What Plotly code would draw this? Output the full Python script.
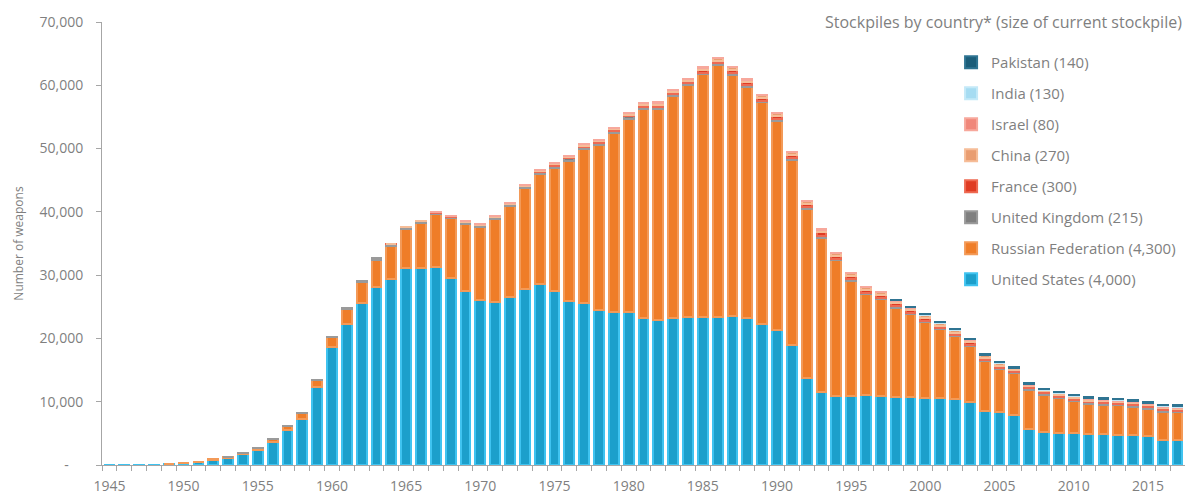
import plotly.graph_objects as go

years = list(range(1945, 2018))

# United States, 1945-2017
us = [2, 9, 13, 50, 170,
      299, 438, 841, 1169, 1703, 2422, 3692, 5543, 7345, 12298,
      18638, 22229, 25540, 28133, 29463, 31139, 31175, 31255, 29561, 27552,
      26008, 25830, 26516, 27835, 28537, 27519, 25914, 25542, 24418, 24138,
      24104, 23208, 22886, 23305, 23459, 23368, 23317, 23575, 23205, 22217,
      21392, 19008, 13708, 11511, 10979, 10904, 11011, 10903, 10732, 10685,
      10577, 10526, 10457, 10027, 8570, 8360, 7853, 5709, 5273, 5113,
      5066, 4897, 4881, 4804, 4717, 4571, 4018, 4000]

# Russian Federation, from 1949
russia_start = 1949
russia = [1,
          5, 25, 50, 120, 150, 200, 426, 660, 869, 1060,
          1605, 2471, 3322, 4238, 5221, 6129, 7089, 8339, 9399, 10538,
          11643, 13092, 14478, 15915, 17385, 19443, 22200, 24350, 26180, 28340,
          30640, 33080, 33390, 35010, 36600, 38350, 39940, 38107, 36538, 35078,
          32980, 29154, 26734, 24403, 21339, 18179, 15942, 15300, 14150, 13100,
          12050, 10950, 9900, 8800, 7800, 6750, 6650, 6200, 5850, 5430,
          5040, 4770, 4650, 4600, 4500, 4330, 4400, 4300]

# United Kingdom, from 1953
uk_start = 1953
uk = [1, 5, 10, 15, 20, 22, 25,
      30, 50, 205, 280, 310, 310, 310, 270, 280, 308,
      280, 220, 220, 275, 325, 350, 350, 350, 350, 350,
      350, 350, 335, 320, 270, 300, 300, 300, 300, 300,
      300, 300, 300, 300, 250, 300, 300, 260, 260, 185,
      185, 185, 200, 200, 200, 200, 200, 225, 225, 225,
      225, 225, 225, 225, 225, 215, 215, 215]

# France, from 1964
france_start = 1964
france = [4, 32, 36, 36, 36, 36,
          36, 45, 70, 116, 145, 188, 212, 228, 235, 235,
          250, 274, 274, 279, 280, 360, 355, 420, 411, 412,
          504, 538, 540, 525, 510, 500, 450, 450, 450, 450,
          470, 350, 350, 350, 350, 350, 350, 350, 300, 300,
          300, 300, 300, 300, 300, 300, 300, 300]

# China, from 1964
china_start = 1964
china = [1, 5, 20, 25, 35, 50,
         75, 100, 130, 150, 170, 185, 190, 200, 220, 235,
         280, 330, 360, 380, 414, 426, 423, 415, 412, 431,
         433, 435, 435, 435, 400, 400, 400, 400, 400, 400,
         400, 400, 400, 400, 400, 400, 200, 200, 200, 240,
         240, 240, 240, 250, 250, 260, 260, 270]

# Israel, from 1967
israel_start = 1967
israel = [2, 4, 6,
          8, 10, 12, 15, 17, 20, 22, 24, 26, 28,
          31, 33, 36, 38, 41, 44, 47, 50, 53, 56,
          60, 63, 67, 72, 76, 80, 80, 80, 80, 80,
          80, 80, 80, 80, 80, 80, 80, 80, 80, 80,
          80, 80, 80, 80, 80, 80, 80, 80]

# India, from 1998
india_start = 1998
india = [30, 35,
         40, 45, 50, 55, 60, 65, 70, 70, 70, 70,
         80, 90, 100, 110, 120, 120, 130, 130]

# Pakistan, from 1998
pakistan_start = 1998
pakistan = [15, 20,
            25, 30, 35, 40, 45, 50, 55, 60, 60, 70,
            90, 100, 110, 120, 130, 130, 140, 140]

tick_years = list(range(1945, 2016, 5))
y_ticks = list(range(0, 70001, 10000))
y_ticktext = ["-\u00a0\u00a0\u00a0\u00a0"] + [f"{v:,}" for v in y_ticks[1:]]


def pad(start, vals):
    out = [None] * (start - 1945) + [v if v else None for v in vals]
    return out + [None] * (len(years) - len(out))


series = [
    ("United States (4,000)", pad(1945, us), "#1c9fcb", "#3fc3f0"),
    ("Russian Federation (4,300)", pad(russia_start, russia), "#ef7d28", "#f39a58"),
    ("United Kingdom (215)", pad(uk_start, uk), "#7f7f7f", "#9a9a9a"),
    ("France (300)", pad(france_start, france), "#df3b22", "#ee6a52"),
    ("China (270)", pad(china_start, china), "#e99d70", "#f6bd98"),
    ("Israel (80)", pad(israel_start, israel), "#f0877a", "#f7a89c"),
    ("India (130)", pad(india_start, india), "#a6dcf2", "#c4e9f8"),
    ("Pakistan (140)", pad(pakistan_start, pakistan), "#1b5d79", "#2f7492"),
]

fig = go.Figure()
n = len(series)
for i, (name, vals, fill, edge) in enumerate(series):
    fig.add_trace(go.Bar(
        x=years, y=vals, name=name, legendgroup=name, legendrank=n - i,
        marker=dict(color=fill, line=dict(color=edge, width=2)),
    ))

grey = "#7f7f7f"
axis_col = "#a6a6a6"
font_family = "Open Sans, Noto Sans, sans-serif"

fig.update_layout(
    width=1185, height=497,
    barmode="stack", bargap=0.34,
    margin=dict(l=102, r=0, t=22, b=32),
    plot_bgcolor="white", paper_bgcolor="white",
    font=dict(family=font_family, color=grey, size=14),
    showlegend=True,
    legend=dict(
        x=0.784, y=0.946, xanchor="left", yanchor="top",
        traceorder="grouped", tracegroupgap=8.5,
        font=dict(size=15, color=grey), itemwidth=30,
        bgcolor="rgba(0,0,0,0)",
    ),
    xaxis=dict(
        range=[1944.5, 2017.5], tickmode="array", tickvals=tick_years,
        ticks="", showline=True, linecolor=axis_col, linewidth=1,
        showgrid=False, zeroline=False, ticklabelstandoff=8,
        tickfont=dict(size=14, color=grey),
        minor=dict(ticks="outside", tickmode="linear", tick0=1944.5, dtick=1,
                   ticklen=5, tickcolor=axis_col, showgrid=False),
    ),
    yaxis=dict(
        range=[0, 70000], tickmode="array", tickvals=y_ticks, ticktext=y_ticktext,
        ticks="outside", ticklen=5, tickcolor=axis_col,
        showline=True, linecolor=axis_col, linewidth=1,
        showgrid=False, zeroline=False, ticklabelstandoff=10,
        tickfont=dict(size=14, color=grey),
        title=dict(text="Number of weapons", font=dict(size=12, color=grey), standoff=13),
    ),
    annotations=[dict(
        text="Stockpiles by country* (size of current stockpile)",
        xref="paper", yref="paper", x=0.999, y=1.0, xanchor="right", yanchor="middle",
        showarrow=False, font=dict(size=16, color=grey),
    )],
)

fig.write_html(
    "out.html",
    config={"displayModeBar": False},
    post_script="document.body.style.margin='0';document.body.style.overflow='hidden';",
)
